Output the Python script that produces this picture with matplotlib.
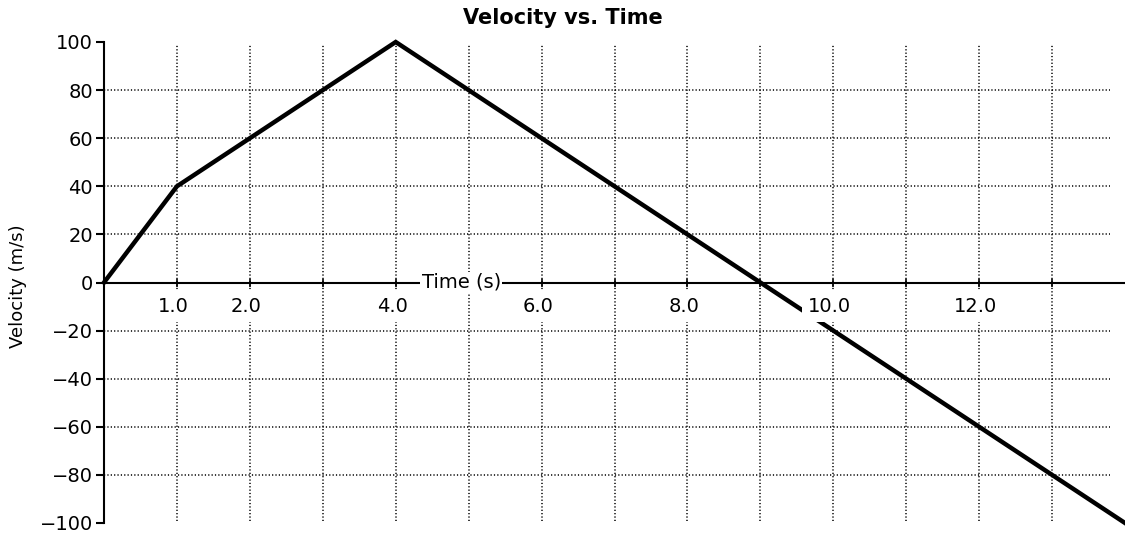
import matplotlib.pyplot as plt

# data
time_s = [0, 1, 4, 14]
velocity_ms = [0, 40, 100, -100]

x_grid = list(range(1, 14))
y_ticks = [-100, -80, -60, -40, -20, 0, 20, 40, 60, 80, 100]
y_grid = [-80, -60, -40, -20, 20, 40, 60, 80]
x_labels = [1, 2, 4, 6, 8, 10, 12]

fig = plt.figure(figsize=(11.25, 5.35), dpi=100)
ax = fig.add_axes([104 / 1125, 12 / 535, 1021 / 1125, 481 / 535])
ax.set_xlim(0, 14)
ax.set_ylim(-100, 100)

# spines: y axis on the left, x axis through zero
for side in ['top', 'right']:
    ax.spines[side].set_visible(False)
ax.spines['left'].set_linewidth(1.5)
ax.spines['bottom'].set_position(('data', 0))
ax.spines['bottom'].set_linewidth(1.5)

ax.set_yticks(y_ticks)
ax.set_yticklabels([str(v).replace('-', '\u2212') for v in y_ticks], fontsize=14)
ax.tick_params(axis='y', length=6, width=1.5, direction='out', pad=2)
ax.set_xticks(x_grid)
ax.set_xticklabels([])
ax.tick_params(axis='x', length=6, width=1.2, direction='inout')

# dotted grid
dots = (0, (0.8, 1.4))
for x in x_grid:
    ax.plot([x, x], [-99, 99], color='black', lw=1.1, ls=dots, zorder=1)
for y in y_grid:
    ax.plot([0, 13.8], [y, y], color='black', lw=1.1, ls=dots, zorder=1)

ax.plot(time_s, velocity_ms, color='black', lw=3.2, zorder=3,
        solid_joinstyle='miter', clip_on=False)

# x tick labels sit under the axis on white boxes
for t in x_labels:
    ax.text(t - 0.05, -10, f"{t:.1f}", ha='center', va='center', fontsize=14,
            bbox=dict(facecolor='white', edgecolor='none', pad=4), zorder=4)

ax.text(4.9, 0, "Time (s)", ha='center', va='center', fontsize=14,
        bbox=dict(facecolor='white', edgecolor='none', pad=1), zorder=4)

fig.text(0.016, 0.465, "Velocity (m/s)", rotation=90, ha='center', va='center',
         fontsize=13)
fig.text(0.5, 0.966, "Velocity vs. Time", ha='center', va='center',
         fontsize=15, fontweight='bold')

fig.savefig('out.png', dpi=100)
